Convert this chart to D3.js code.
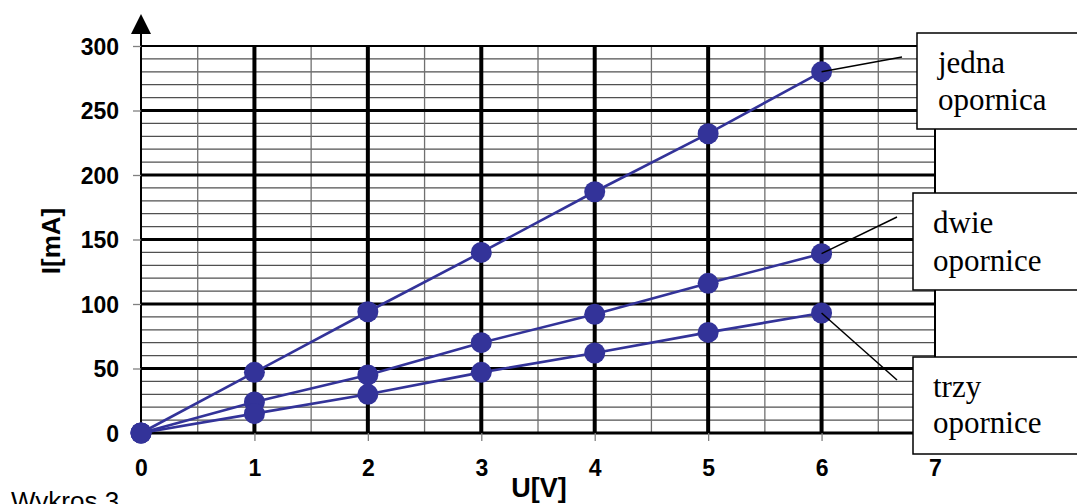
<!DOCTYPE html>
<html>
<head>
<meta charset="utf-8">
<script src="https://cdn.jsdelivr.net/npm/d3@7"></script>
<style>
  body { margin: 0; background: #fff; }
  svg { display: block; }
</style>
</head>
<body>
<svg id="chart" width="1077" height="504"></svg>
<script>
'use strict';

var voltages = [0, 1, 2, 3, 4, 5, 6];
var jedna = [0, 47, 94, 140, 187, 232, 280];
var dwie  = [0, 24, 45, 70, 92, 116, 139];
var trzy  = [0, 15, 30, 47, 62, 78, 93];

var xTicks = [0, 1, 2, 3, 4, 5, 6, 7];
var yTicks = [0, 50, 100, 150, 200, 250, 300];

var seriesNames = ['jedna', 'dwie', 'trzy'];
var labelLines = [['jedna', 'opornica'], ['dwie', 'opornice'], ['trzy', 'opornice']];

var svg = d3.select('#chart');
var color = '#333399';

var x = d3.scaleLinear().domain([0, 7]).range([141, 935]);
var y = d3.scaleLinear().domain([0, 300]).range([433, 46]);

var grid = svg.append('g').attr('class', 'grid');

// thin horizontal lines every 10 mA
d3.range(10, 300, 10).filter(function (v) { return v % 50 !== 0; }).forEach(function (v) {
  grid.append('line')
    .attr('x1', x(0)).attr('x2', x(7))
    .attr('y1', y(v)).attr('y2', y(v))
    .attr('stroke', '#505050').attr('stroke-width', 1.3);
});

// thin vertical lines at half volts
d3.range(0.5, 7, 1).forEach(function (v) {
  grid.append('line')
    .attr('x1', x(v)).attr('x2', x(v))
    .attr('y1', y(0)).attr('y2', y(300))
    .attr('stroke', '#707070').attr('stroke-width', 1.3);
});

// thick horizontal lines
yTicks.forEach(function (v) {
  grid.append('line')
    .attr('x1', x(0)).attr('x2', x(7))
    .attr('y1', y(v)).attr('y2', y(v))
    .attr('stroke', '#000')
    .attr('stroke-width', (v === 300) ? 2 : 3);
});

// thick vertical lines
xTicks.forEach(function (v) {
  var w = 4;
  if (v === 0 || v === 7) { w = 2; }
  grid.append('line')
    .attr('x1', x(v)).attr('x2', x(v))
    .attr('y1', y(0)).attr('y2', y(300))
    .attr('stroke', '#000')
    .attr('stroke-width', w);
});

// y axis arrow
svg.append('line')
  .attr('x1', x(0)).attr('x2', x(0))
  .attr('y1', y(300)).attr('y2', 32)
  .attr('stroke', '#000').attr('stroke-width', 2);
svg.append('path')
  .attr('d', 'M' + x(0) + ',14L' + (x(0) + 10) + ',34L' + (x(0) - 10) + ',34Z')
  .attr('fill', '#000');

// axes (ticks + labels)
var yAxis = svg.append('g')
  .attr('transform', 'translate(' + x(0) + ',0)')
  .call(d3.axisLeft(y).tickValues(yTicks).tickFormat(d3.format('d')).tickSize(8).tickPadding(14));
var xAxis = svg.append('g')
  .attr('transform', 'translate(0,' + y(0) + ')')
  .call(d3.axisBottom(x).tickValues(xTicks).tickFormat(d3.format('d')).tickSize(8).tickPadding(19));

[yAxis, xAxis].forEach(function (ax) {
  ax.select('.domain').remove();
  ax.selectAll('.tick line').attr('stroke', '#808080').attr('stroke-width', 1.3);
  ax.selectAll('.tick text')
    .attr('fill', '#000')
    .style('font-family', 'Liberation Sans, Arial, sans-serif')
    .style('font-weight', 'bold')
    .style('font-size', '23px');
});
yAxis.selectAll('.tick text').attr('dy', '0.36em');

// axis titles
svg.append('text')
  .attr('transform', 'translate(60,241) rotate(-90)')
  .attr('text-anchor', 'middle')
  .style('font-family', 'Liberation Sans, Arial, sans-serif')
  .style('font-weight', 'bold')
  .style('font-size', '26px')
  .text('I[mA]');

svg.append('text')
  .attr('x', 539).attr('y', 497)
  .attr('text-anchor', 'middle')
  .style('font-family', 'Liberation Sans, Arial, sans-serif')
  .style('font-weight', 'bold')
  .style('font-size', '27px')
  .text('U[V]');

svg.append('text')
  .attr('x', 11).attr('y', 510)
  .style('font-family', 'Liberation Sans, Arial, sans-serif')
  .style('font-size', '26px')
  .text('Wykros 3');

// series
var allSeries = [jedna, dwie, trzy];
var line = d3.line()
  .x(function (d, i) { return x(voltages[i]); })
  .y(function (d) { return y(d); });

allSeries.forEach(function (vals, k) {
  svg.append('path')
    .attr('class', 'series ' + seriesNames[k])
    .attr('d', line(vals))
    .attr('fill', 'none')
    .attr('stroke', color)
    .attr('stroke-width', 2.6);
});

allSeries.forEach(function (vals) {
  svg.append('g').selectAll('circle')
    .data(vals)
    .enter().append('circle')
    .attr('cx', function (d, i) { return x(voltages[i]); })
    .attr('cy', function (d) { return y(d); })
    .attr('r', 10.5)
    .attr('fill', color);
});

// leader lines from the last point to the label boxes
var leaderEnds = [[902, 57], [897, 217], [897, 380]];
allSeries.forEach(function (vals, k) {
  var last = vals.length - 1;
  svg.append('line')
    .attr('x1', x(voltages[last])).attr('y1', y(vals[last]))
    .attr('x2', leaderEnds[k][0]).attr('y2', leaderEnds[k][1])
    .attr('stroke', '#000').attr('stroke-width', 1.5);
});

// label boxes
var boxes = [
  { x: 917, y: 33, h: 96, tx: 938, b1: 73, b2: 110 },
  { x: 913, y: 193, h: 97, tx: 933, b1: 233, b2: 271 },
  { x: 913, y: 357, h: 97, tx: 933, b1: 397, b2: 433 }
];
boxes.forEach(function (b, k) {
  svg.append('rect')
    .attr('x', b.x).attr('y', b.y)
    .attr('width', 200).attr('height', b.h)
    .attr('fill', '#fff')
    .attr('stroke', '#000').attr('stroke-width', 1.5);
  [b.b1, b.b2].forEach(function (by, j) {
    svg.append('text')
      .attr('x', b.tx).attr('y', by)
      .style('font-family', 'Liberation Serif, Times New Roman, serif')
      .style('font-size', '31px')
      .text(labelLines[k][j]);
  });
});
</script>
</body>
</html>
